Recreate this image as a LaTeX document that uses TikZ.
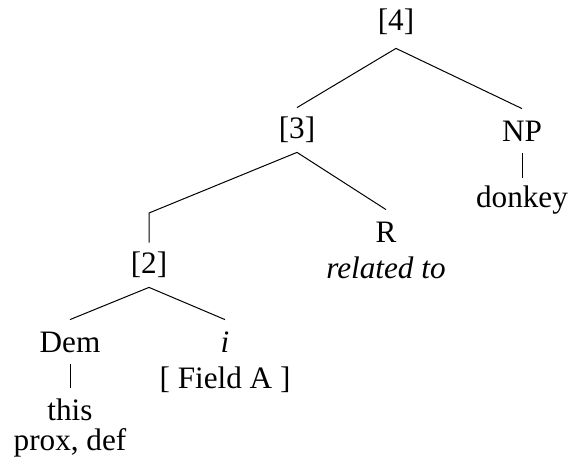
\documentclass[tikz,border=0pt]{standalone}
\usepackage{fontspec}
\setmainfont{Liberation Serif}
\begin{document}
\begin{tikzpicture}[x=0.5pt,y=-0.5pt,
    every node/.style={font=\fontsize{15.6}{18}\selectfont},
    cat/.style={inner sep=0pt, minimum height=22pt},
    txt/.style={inner sep=0pt},
    branch/.style={line width=0.5pt}]
  \useasboundingbox (0,0) rectangle (574,464);
  % categories
  \node[cat, minimum height=26pt] (n4) at (396,22) {[4]};
  \node[cat] (n3) at (297,130) {[3]};
  \node[cat] (np) at (522,131) {NP};
  \node[cat] (n2) at (149,265) {[2]};
  \node[cat] (r) at (386,232) {R};
  \node[cat] (dem) at (70,342) {Dem};
  \node[cat] (i) at (225,342) {\textit{i}};
  % words
  \node[cat] (donkey) at (522,200) {donkey};
  \node[cat] (this) at (70,410) {this};
  \node[txt] (rel) at (386,268) {\textit{related to}};
  \node[txt] (field) at (225,380) {[ Field A ]};
  \node[txt] (prox) at (70,443) {prox, def};
  \coordinate (k2) at (149,213);
  % branches
  \draw[branch] (n4.south) -- (n3.north);
  \draw[branch] (n4.south) -- (np.north);
  \draw[branch] (n3.south) -- (k2) -- (n2.north);
  \draw[branch] (n3.south) -- (r.north);
  \draw[branch] (n2.south) -- (dem.north);
  \draw[branch] (n2.south) -- (i.north);
  \draw[branch] (np.south) -- (donkey.north);
  \draw[branch] (dem.south) -- (this.north);
\end{tikzpicture}
\end{document}
